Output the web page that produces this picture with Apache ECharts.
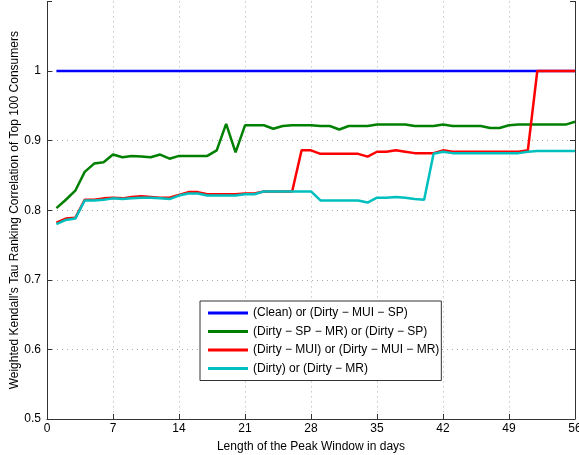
<!DOCTYPE html>
<html><head><meta charset="utf-8">
<script src="https://cdn.jsdelivr.net/npm/echarts@6/dist/echarts.min.js"></script>
<style>html,body{margin:0;padding:0;background:#fff}#c{width:579px;height:455px}</style>
</head><body><div id="c"></div>
<script>
const days = [];
for (let d = 1; d <= 56; d++) days.push(d);
const xTicks = [0, 7, 14, 21, 28, 35, 42, 49, 56];
const yTicks = [0.5, 0.6, 0.7, 0.8, 0.9, 1];
const names = ['(Clean) or (Dirty \u2212 MUI \u2212 SP)', '(Dirty \u2212 SP \u2212 MR) or (Dirty \u2212 SP)', '(Dirty \u2212 MUI) or (Dirty \u2212 MUI \u2212 MR)', '(Dirty) or (Dirty \u2212 MR)'];
const blue = [1,1,1,1,1,1,1,1,1,1,1,1,1,1,1,1,1,1,1,1,1,1,1,1,1,1,1,1,1,1,1,1,1,1,1,1,1,1,1,1,1,1,1,1,1,1,1,1,1,1,1,1,1,1,1,1];
const green = [0.803,0.815,0.828,0.855,0.867,0.869,0.880,0.876,0.878,0.877,0.876,0.880,0.874,0.878,0.878,0.878,0.878,0.886,0.924,0.883,
  0.922,0.922,0.922,0.917,0.921,0.922,0.922,0.922,0.921,0.921,0.916,0.921,0.921,0.921,0.923,0.923,0.923,0.923,0.921,0.921,
  0.921,0.923,0.921,0.921,0.921,0.921,0.918,0.918,0.922,0.923,0.923,0.923,0.923,0.923,0.923,0.927];
const red = [0.782,0.788,0.789,0.815,0.815,0.817,0.818,0.817,0.819,0.820,0.819,0.818,0.818,0.822,0.826,0.826,0.823,0.823,0.823,0.823,
  0.824,0.824,0.827,0.827,0.827,0.827,0.886,0.886,0.881,0.881,0.881,0.881,0.881,0.877,0.884,0.884,0.886,0.884,0.882,0.882,
  0.882,0.886,0.884,0.884,0.884,0.884,0.884,0.884,0.884,0.884,0.886,1,1,1,1,1];
const cyan = [0.780,0.786,0.788,0.814,0.814,0.815,0.817,0.816,0.817,0.818,0.818,0.817,0.816,0.821,0.824,0.824,0.821,0.821,0.821,0.821,
  0.823,0.823,0.827,0.827,0.827,0.827,0.827,0.827,0.814,0.814,0.814,0.814,0.814,0.811,0.818,0.818,0.819,0.818,0.816,0.815,
  0.881,0.884,0.882,0.882,0.882,0.882,0.882,0.882,0.882,0.882,0.884,0.885,0.885,0.885,0.885,0.885];
const colors = ['#0000ff', '#008000', '#ff0000', '#00bfbf'];
const allSeries = [blue, green, red, cyan];

const font = 'Liberation Sans, Arial, sans-serif';
const chart = echarts.init(document.getElementById('c'), null, {renderer: 'canvas'});
const axisLabelY = {
  color: '#000', fontFamily: font, fontSize: 12, margin: 6,
  formatter: v => { const r = Math.round(v * 10) / 10; return yTicks.some(t => Math.abs(t - r) < 1e-9) ? String(r) : ''; }
};
chart.setOption({
  animation: false,
  grid: {left: 47, right: 4, top: 1.4, bottom: 36, containLabel: false, outerBoundsMode: 'none'},
  legend: {
    orient: 'vertical', left: 200, top: 301,
    data: names,
    icon: 'rect', itemWidth: 40, itemHeight: 3, itemGap: 4.5,
    padding: [5, 2, 5, 8],
    borderColor: '#333', borderWidth: 1, backgroundColor: '#fff',
    textStyle: {color: '#000', fontFamily: font, fontSize: 12, lineHeight: 14, padding: [0, 0, 0, 0]}
  },
  xAxis: [{
    type: 'value', min: 0, max: 56, interval: 7,
    name: 'Length of the Peak Window in days', nameLocation: 'middle', nameGap: 22, nameMoveOverlap: false,
    nameTextStyle: {color: '#000', fontFamily: font, fontSize: 12},
    axisLine: {show: true, onZero: false, lineStyle: {color: '#333', width: 1}},
    axisTick: {show: true, inside: true, length: 5, lineStyle: {color: '#333'}},
    axisLabel: {color: '#000', fontFamily: font, fontSize: 12, margin: 4},
    splitLine: {show: true, showMinLine: false, showMaxLine: false, lineStyle: {color: '#aaa', type: [1, 4], width: 1}}
  }],
  yAxis: [{
    type: 'value', min: 0.5, max: 1.1, interval: 0.1,
    name: "Weighted Kendall's Tau Ranking Correlation of Top 100 Consumers", nameLocation: 'middle', nameGap: 26, nameMoveOverlap: false,
    nameTextStyle: {color: '#000', fontFamily: font, fontSize: 12},
    axisLine: {show: true, onZero: false, lineStyle: {color: '#333', width: 1}},
    axisTick: {show: true, inside: true, length: 5, lineStyle: {color: '#333'}},
    axisLabel: axisLabelY,
    splitLine: {show: true, showMinLine: false, showMaxLine: false, lineStyle: {color: '#aaa', type: [1, 4], width: 1}}
  }, {
    type: 'value', min: 0.5, max: 1.1, interval: 0.1, position: 'right',
    axisLine: {show: true, onZero: false, lineStyle: {color: '#333', width: 1}},
    axisTick: {show: true, inside: true, length: 5, lineStyle: {color: '#333'}},
    axisLabel: {show: false}, splitLine: {show: false}
  }],
  series: allSeries.map((vals, i) => ({
    name: names[i], type: 'line', symbol: 'none', yAxisIndex: 0,
    data: days.map((d, j) => [d, vals[j]]),
    lineStyle: {color: colors[i], width: 2.5},
    itemStyle: {color: colors[i]},
    z: 2 + i
  }))
});
</script></body></html>
